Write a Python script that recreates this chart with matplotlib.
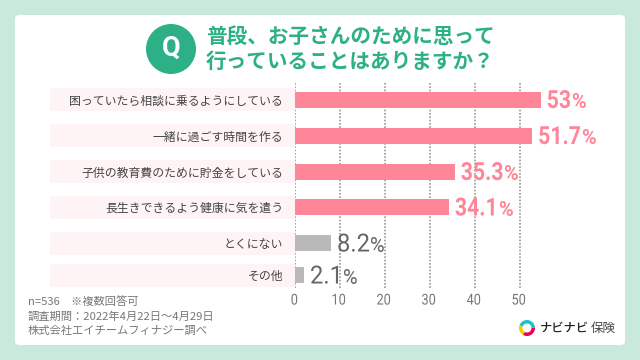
import matplotlib
matplotlib.use("Agg")
import matplotlib.pyplot as plt
from matplotlib.patches import Circle, FancyBboxPatch, Rectangle, Wedge
from matplotlib.patheffects import AbstractPathEffect
from matplotlib.transforms import Affine2D, Bbox

plt.rcParams['font.family'] = ['Noto Sans CJK JP', 'DejaVu Sans']

categories = ['困っていたら相談に乗るようにしている', '一緒に過ごす時間を作る', '子供の教育費のために貯金をしている',
              '長生きできるよう健康に気を遣う', 'とくにない', 'その他']
value_labels = ['53', '51.7', '35.3', '34.1', '8.2', '2.1']
# bar lengths as drawn against the axis (the top two run past their printed values)
bar_lengths = [54.6, 52.7, 35.5, 34.2, 8.0, 2.0]
xticks = [0, 10, 20, 30, 40, 50]
title_lines = ['普段、お子さんのために思って', '行っていることはありますか？']
notes = ['n=536　※複数回答可', '調査期間：2022年4月22日～4月29日', '株式会社エイチームフィナジー調べ']

row_y = [99.5, 135.5, 171.5, 207, 243, 275]
PINK = '#ff8599'
GREY = '#b9b9b9'
GREEN = '#2eb086'
W, H = 640, 360


def px(size):
    # font size in pixels -> points at dpi 100
    return size * 0.72


class Squeeze(AbstractPathEffect):
    # no condensed font here, so narrow the glyphs from the text origin
    def __init__(self, sx):
        super().__init__()
        self.sx = sx

    def draw_path(self, renderer, gc, tpath, affine, rgbFace=None):
        renderer.draw_path(gc, tpath, Affine2D().scale(self.sx, 1) + affine, rgbFace)


def squeeze_text(text, sx):
    # draw narrower and report the narrower box too
    text.set_path_effects([Squeeze(sx)])
    full_extent = text.get_window_extent

    def narrow_extent(renderer=None, *args, **kwargs):
        bb = full_extent(renderer, *args, **kwargs)
        return Bbox.from_extents(bb.x0, bb.y0, bb.x0 + bb.width * sx, bb.y1)

    text.get_window_extent = narrow_extent


fig = plt.figure(figsize=(6.4, 3.6), dpi=100, facecolor='#c9e9dd')

# page layer in pixel coordinates
bg = fig.add_axes([0, 0, 1, 1])
bg.set_xlim(0, W)
bg.set_ylim(H, 0)
bg.axis('off')
bg.add_patch(FancyBboxPatch((19, 19), 602, 322, boxstyle='round,pad=4,rounding_size=4',
                            fc='white', ec='none'))
bg.add_patch(Circle((171, 49), 25, fc=GREEN, ec='none'))
bg.text(171, 48.5, 'Q', color='white', fontsize=px(27), fontweight='bold', ha='center', va='center',
        family='Roboto')
for i, line in enumerate(title_lines):
    bg.text(206, 36 + i * 25, line, color=GREEN, fontsize=px(20.6), fontweight='bold', ha='left', va='center')
for y in row_y:
    bg.add_patch(Rectangle((50, y - 11.5), 245, 23, fc='#fff4f5', ec='none'))
for i, line in enumerate(notes):
    bg.text(28, 302 + i * 14.6, line, color='#777777', fontsize=px(11.3), ha='left', va='center')

# logo
bg.add_patch(Wedge((527, 328), 8, 0, 120, width=3.5, fc='#e6005a', ec='none'))
bg.add_patch(Wedge((527, 328), 8, 120, 200, width=3.5, fc='#fbc600', ec='none'))
bg.add_patch(Wedge((527, 328), 8, 200, 360, width=3.5, fc='#19c3cf', ec='none'))
bg.text(540, 328, 'ナビナビ', color='#222222', fontsize=px(12.3), fontweight='medium', ha='left', va='center')
bg.text(591, 328.5, '保険', color='#444444', fontsize=px(12.5), ha='left', va='center')

# chart layer
left, right, top, bottom = 295, 560, 83, 288
ax = fig.add_axes([left / W, 1 - bottom / H, (right - left) / W, (bottom - top) / H])
ax.patch.set_alpha(0)
ax.set_xlim(0, (right - left) / 4.5)
ax.set_ylim(bottom, top)
for s in ax.spines.values():
    s.set_visible(False)
ax.set_axisbelow(True)
ax.xaxis.grid(True, color='#999999', linestyle=(0, (1, 1)), linewidth=1.2)
ax.yaxis.grid(False)
colors = [PINK] * 4 + [GREY] * 2
ax.barh(row_y, bar_lengths, height=16, color=colors)

ax.set_xticks(xticks)
ax.set_xticklabels(xticks, color='#777777', fontsize=px(15), family='Roboto')
for t in ax.get_xticklabels():
    t.set_path_effects([Squeeze(0.85)])
ax.tick_params(axis='x', length=0, pad=4)
ax.set_yticks(row_y)
ax.set_yticklabels(categories, color='#444444', fontsize=px(11.9))
ax.tick_params(axis='y', length=0, pad=8.5)

renderer = fig.canvas.get_renderer()
for y, length, label, c in zip(row_y, bar_lengths, value_labels, colors):
    pink = c == PINK
    col = PINK if pink else '#666666'
    weight = 'bold' if pink else 'normal'
    num = ax.annotate(label, xy=(length, y), xytext=(px(6), px(-8.5)), textcoords='offset points', color=col,
                      fontsize=px(25), fontweight=weight, family='Roboto', ha='left', va='baseline')
    squeeze_text(num, 0.85 if pink else 0.95)
    num_w = num.get_window_extent(renderer).width
    ax.annotate('%', xy=(length, y), xytext=(px(6 + num_w), px(-9)), textcoords='offset points',
                color=col, fontsize=px(20), fontweight=weight, family='Roboto', ha='left', va='baseline')

fig.savefig('out.png', dpi=100, facecolor=fig.get_facecolor())
